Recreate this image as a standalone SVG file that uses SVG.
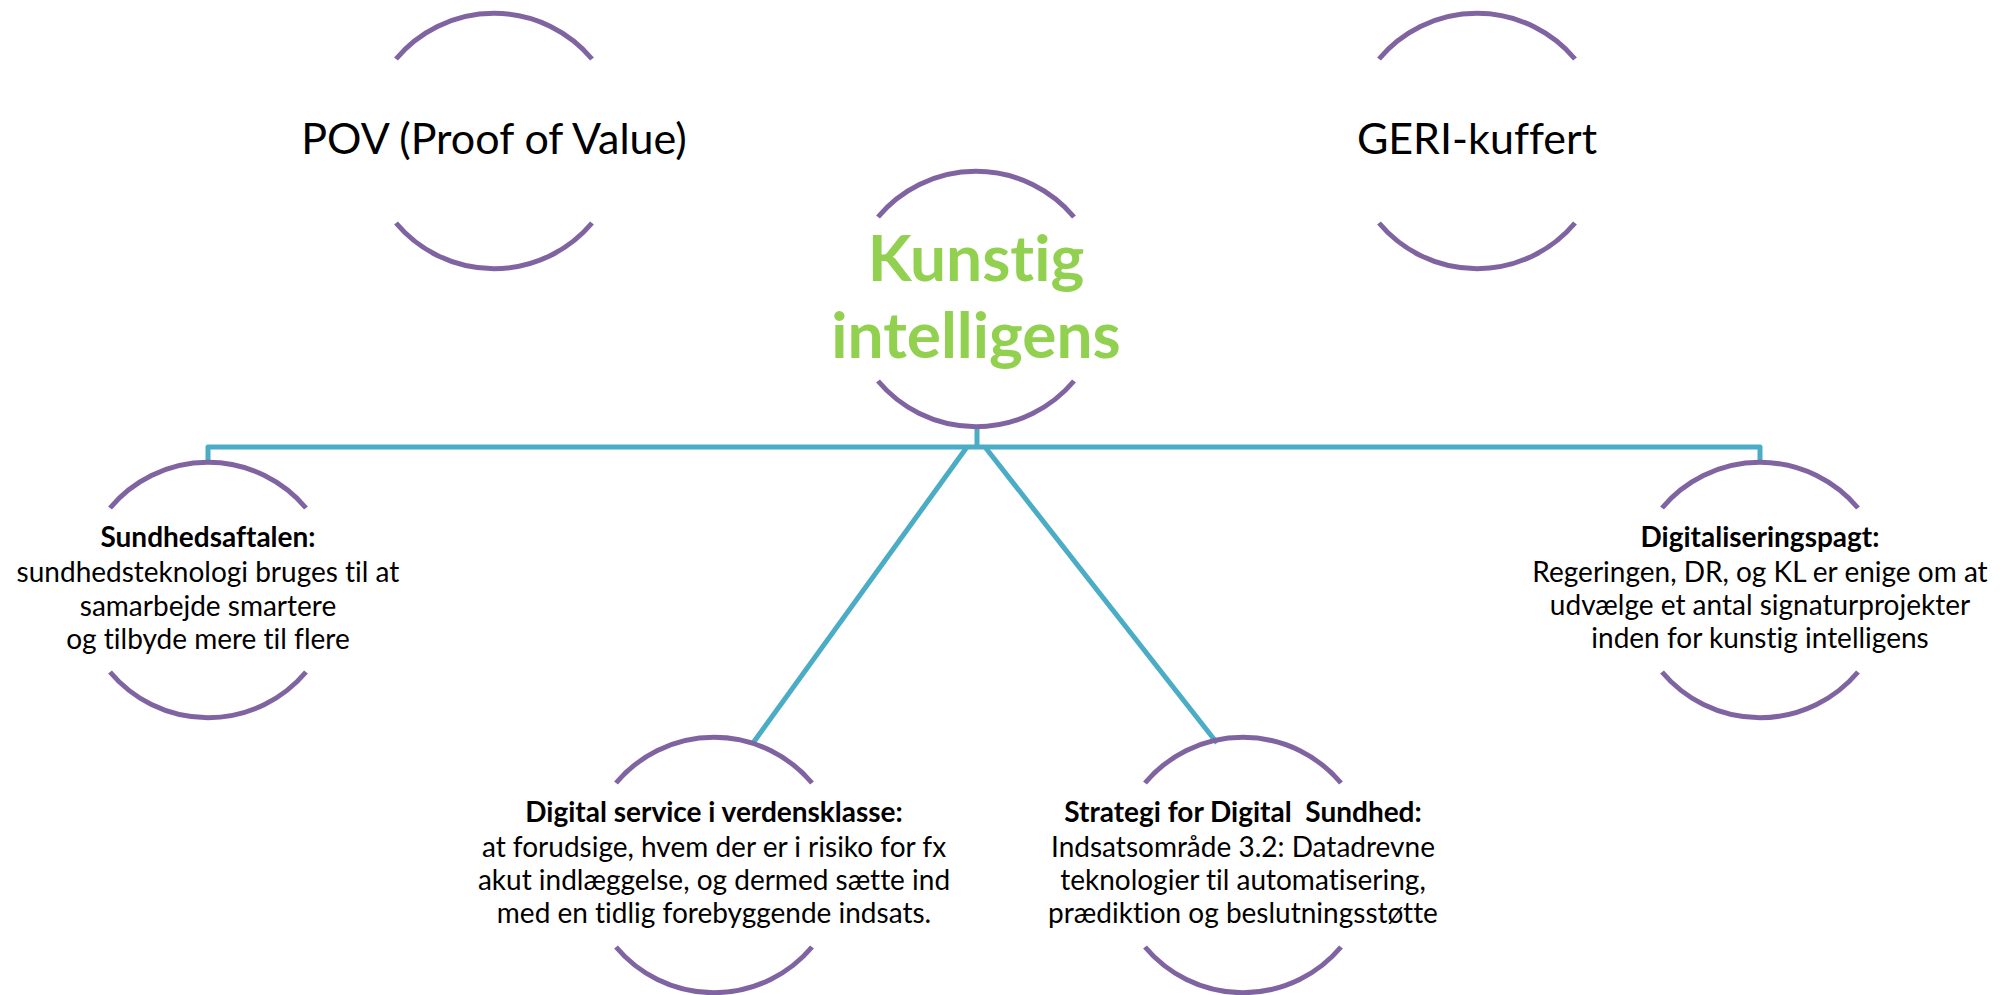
<svg xmlns="http://www.w3.org/2000/svg" width="2011" height="995" viewBox="0 0 2011 995">
<style>
text{font-variant-ligatures:none;font-feature-settings:"liga" 0,"dlig" 0}
.ring{fill:none;stroke:#8064A2;stroke-width:5}
.conn{fill:none;stroke:#4BACC6;stroke-width:5;stroke-linejoin:round}
.big{font-family:Lato,"Open Sans",sans-serif;font-size:43px;fill:#000;text-anchor:middle}
.title{font-family:Lato,"Open Sans",sans-serif;font-weight:bold;font-size:64px;fill:#92D050;text-anchor:middle}
.t{font-family:Lato,"Open Sans",sans-serif;font-size:28px;fill:#000;text-anchor:middle}
.b{font-weight:bold}
</style>
<defs>
<path id="rings" d="M-98,-82 A128,128 0 0 1 98,-82 M-98,82 A128,128 0 0 0 98,82"/>
</defs>
<g id="connectors">
<path class="conn" d="M208,462 V447 H1760 V462"/>
<path class="conn" d="M977,427 V447"/>
<path class="conn" d="M967,447 L753,743"/>
<path class="conn" d="M985,447 L1217,743"/>
</g>
<g id="pov">
<use href="#rings" class="ring" transform="translate(494,141)"/>
<text class="big" x="494" y="154">POV (Proof of Value)</text>
</g>
<g id="geri">
<use href="#rings" class="ring" transform="translate(1477,141)"/>
<text class="big" x="1477" y="154">GERI-kuffert</text>
</g>
<g id="center">
<use href="#rings" class="ring" transform="translate(976,299)"/>
<text class="title" x="976" y="281">Kunstig</text>
<text class="title" x="976" y="358">intelligens</text>
</g>
<g id="sundhedsaftalen">
<use href="#rings" class="ring" transform="translate(208,590)"/>
<text class="t b" x="208" y="547">Sundhedsaftalen:</text>
<text class="t" x="208" y="582">sundhedsteknologi bruges til at</text>
<text class="t" x="208" y="616">samarbejde smartere</text>
<text class="t" x="208" y="649">og tilbyde mere til flere</text>
</g>
<g id="digital-service">
<use href="#rings" class="ring" transform="translate(714,865)"/>
<text class="t b" x="714" y="822">Digital service i verdensklasse:</text>
<text class="t" x="714" y="857">at forudsige, hvem der er i risiko for fx</text>
<text class="t" x="714" y="890">akut indlæggelse, og dermed sætte ind</text>
<text class="t" x="714" y="923">med en tidlig forebyggende indsats.</text>
</g>
<g id="strategi">
<use href="#rings" class="ring" transform="translate(1243,865)"/>
<text class="t b" x="1243" y="822">Strategi for Digital&#160; Sundhed:</text>
<text class="t" x="1243" y="857">Indsatsområde 3.2: Datadrevne</text>
<text class="t" x="1243" y="890">teknologier til automatisering,</text>
<text class="t" x="1243" y="923">prædiktion og beslutningsstøtte</text>
</g>
<g id="digitaliseringspagt">
<use href="#rings" class="ring" transform="translate(1760,590)"/>
<text class="t b" x="1760" y="547">Digitaliseringspagt:</text>
<text class="t" x="1760" y="582">Regeringen, DR, og KL er enige om at</text>
<text class="t" x="1760" y="615">udvælge et antal signaturprojekter</text>
<text class="t" x="1760" y="648">inden for kunstig intelligens</text>
</g>
</svg>
